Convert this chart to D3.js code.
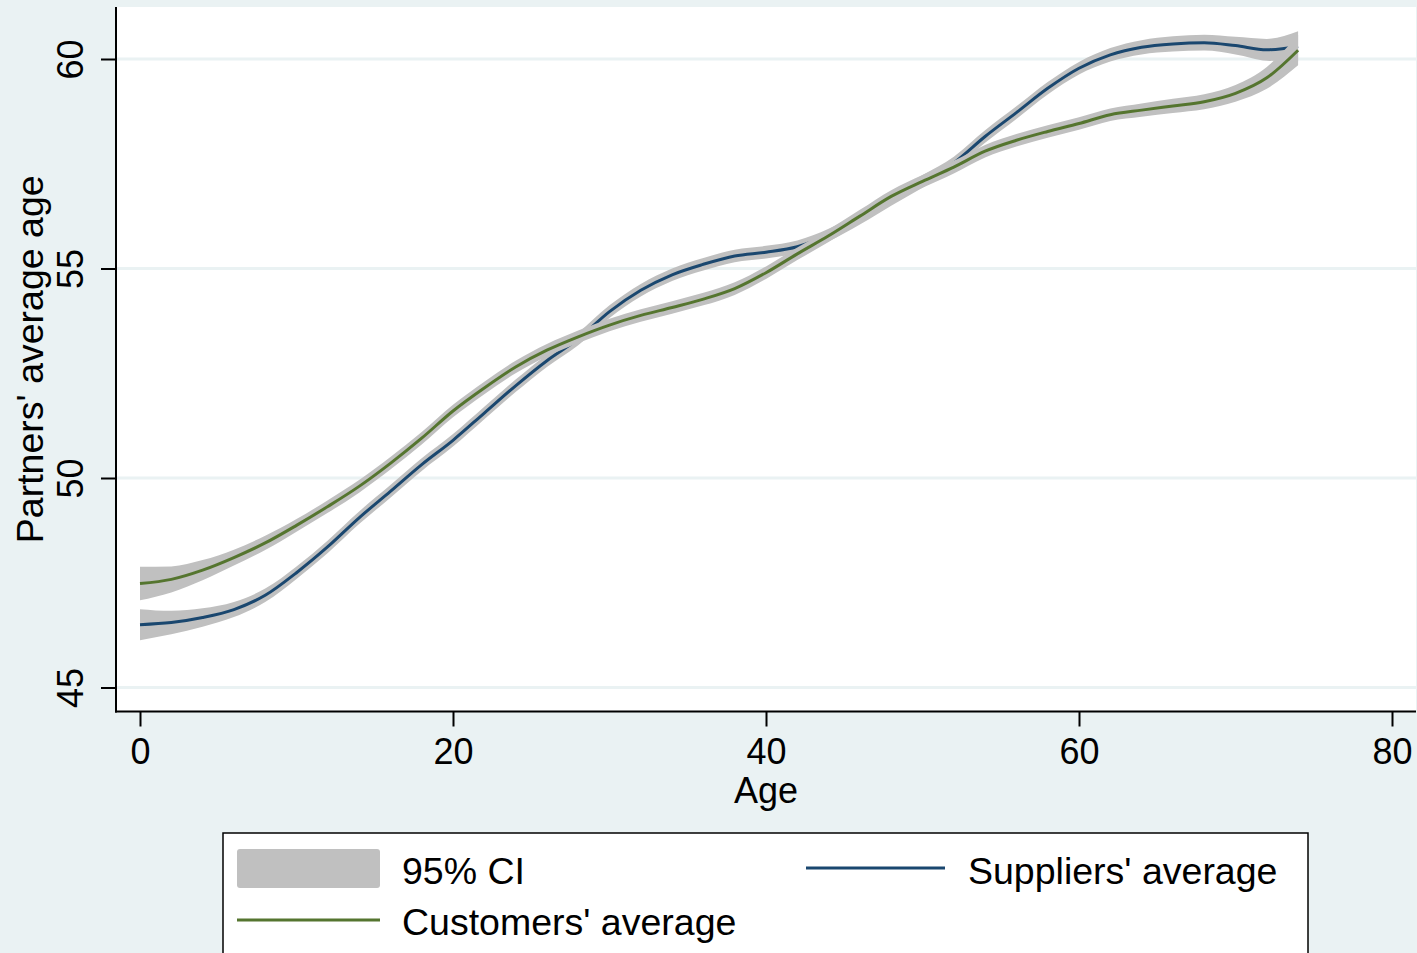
<!DOCTYPE html>
<html>
<head>
<meta charset="utf-8">
<script src="https://cdn.jsdelivr.net/npm/d3@7"></script>
<style>
  html, body { margin: 0; padding: 0; background: #eaf2f3; }
  svg { display: block; }
  text { font-family: "Liberation Sans", Arial, Helvetica, sans-serif; fill: #000; }
</style>
</head>
<body>
<svg id="chart" width="1417" height="953"></svg>
<script>
// Age grid on which the local-polynomial fits are evaluated
const ages = [0, 2, 4, 6, 8, 10, 12, 14, 16, 18, 20, 22, 24, 26, 28, 30, 32, 34, 36, 38,
              40, 42, 44, 46, 48, 50, 52, 54, 56, 58, 60, 62, 64, 66, 68, 70, 72, 74];

// Suppliers' average age by firm age, and half-width of its 95% CI
const suppliersMean = [46.50, 46.55, 46.67, 46.86, 47.20, 47.74, 48.36, 49.05, 49.68, 50.32,
                       50.90, 51.55, 52.20, 52.80, 53.32, 53.97, 54.48, 54.85, 55.10, 55.30,
                       55.39, 55.52, 55.80, 56.20, 56.65, 57.08, 57.52, 58.15, 58.72, 59.30,
                       59.78, 60.10, 60.28, 60.36, 60.39, 60.32, 60.22, 60.30];
const suppliersCI = [0.37, 0.28, 0.22, 0.18, 0.16, 0.15, 0.15, 0.15, 0.15, 0.15,
                     0.15, 0.15, 0.15, 0.15, 0.15, 0.15, 0.15, 0.15, 0.15, 0.15,
                     0.15, 0.15, 0.15, 0.15, 0.15, 0.15, 0.15, 0.15, 0.15, 0.15,
                     0.15, 0.16, 0.17, 0.18, 0.19, 0.21, 0.26, 0.36];

// Customers' average age by firm age, and half-width of its 95% CI
const customersMean = [47.48, 47.58, 47.80, 48.10, 48.45, 48.87, 49.32, 49.80, 50.35, 50.95,
                       51.60, 52.15, 52.65, 53.05, 53.37, 53.65, 53.88, 54.07, 54.27, 54.52,
                       54.90, 55.35, 55.78, 56.25, 56.72, 57.08, 57.42, 57.80, 58.06, 58.27,
                       58.46, 58.67, 58.78, 58.88, 58.98, 59.18, 59.55, 60.21];
const customersCI = [0.40, 0.31, 0.24, 0.19, 0.17, 0.15, 0.15, 0.15, 0.15, 0.15,
                     0.15, 0.15, 0.15, 0.15, 0.15, 0.15, 0.15, 0.15, 0.15, 0.15,
                     0.15, 0.15, 0.15, 0.15, 0.15, 0.15, 0.15, 0.15, 0.15, 0.15,
                     0.15, 0.15, 0.16, 0.17, 0.18, 0.20, 0.26, 0.36];

// Axis ticks
const xTicks = [0, 20, 40, 60, 80];
const yTicks = [45, 50, 55, 60];

// Legend labels
const legendLabels = ["95% CI", "Suppliers' average", "Customers' average"];

const colors = { suppliers: "#1a476f", customers: "#55752f", band: "#c0c0c0", grid: "#eaf2f3" };

const svg = d3.select("#chart");

// Plot region
const plot = { left: 116, right: 1416, top: 7, bottom: 711.5 };

const x = d3.scaleLinear().domain([0, 80]).range([140, 1392]);
const y = d3.scaleLinear().domain([45, 60]).range([687.5, 59]);

svg.append("rect")
  .attr("x", plot.left).attr("y", plot.top)
  .attr("width", plot.right - plot.left).attr("height", plot.bottom - plot.top)
  .attr("fill", "#ffffff");

// Horizontal grid lines
svg.append("g").selectAll("line").data(yTicks).join("line")
  .attr("x1", plot.left).attr("x2", plot.right)
  .attr("y1", d => y(d)).attr("y2", d => y(d))
  .attr("stroke", colors.grid).attr("stroke-width", 3);

function series(mean, ci) {
  return ages.map((a, i) => ({ age: a, m: mean[i], lo: mean[i] - ci[i], hi: mean[i] + ci[i] }));
}

const area = d3.area()
  .x(d => x(d.age)).y0(d => y(d.lo)).y1(d => y(d.hi))
  .curve(d3.curveMonotoneX);
const line = d3.line()
  .x(d => x(d.age)).y(d => y(d.m))
  .curve(d3.curveMonotoneX);

const layers = [
  { data: series(suppliersMean, suppliersCI), color: colors.suppliers },
  { data: series(customersMean, customersCI), color: colors.customers }
];

// Each fit draws its band, then its line
layers.forEach(s => {
  svg.append("path").datum(s.data)
    .attr("d", area).attr("fill", colors.band).attr("stroke", "none");
  svg.append("path").datum(s.data)
    .attr("d", line).attr("fill", "none")
    .attr("stroke", s.color).attr("stroke-width", 3)
    .attr("stroke-linejoin", "round");
});

// X axis
const xAxis = d3.axisBottom(x).tickValues(xTicks).tickSize(15).tickPadding(10).tickFormat(d3.format("d"));
const gx = svg.append("g").attr("transform", `translate(0,${plot.bottom})`).call(xAxis);
gx.select(".domain").remove();
gx.selectAll(".tick line").attr("stroke", "#000").attr("stroke-width", 2);
gx.selectAll(".tick text")
  .attr("font-size", 36).attr("dy", null).attr("y", 52)
  .style("font-family", '"Liberation Sans", Arial, sans-serif');
svg.append("line")
  .attr("x1", plot.left - 1).attr("x2", plot.right)
  .attr("y1", plot.bottom).attr("y2", plot.bottom)
  .attr("stroke", "#000").attr("stroke-width", 2);

// Y axis
const yAxis = d3.axisLeft(y).tickValues(yTicks).tickSize(15).tickFormat(d3.format("d"));
const gy = svg.append("g").attr("transform", `translate(${plot.left},0)`).call(yAxis);
gy.select(".domain").remove();
gy.selectAll(".tick line").attr("stroke", "#000").attr("stroke-width", 2);
gy.selectAll(".tick text")
  .attr("font-size", 36).attr("dy", null).attr("x", null)
  .attr("text-anchor", "middle")
  .attr("transform", "translate(-33,0) rotate(-90)")
  .style("font-family", '"Liberation Sans", Arial, sans-serif');
svg.append("line")
  .attr("x1", plot.left).attr("x2", plot.left)
  .attr("y1", plot.top).attr("y2", plot.bottom + 1)
  .attr("stroke", "#000").attr("stroke-width", 2);

// Axis titles
svg.append("text")
  .attr("x", (plot.left + plot.right) / 2).attr("y", 803)
  .attr("text-anchor", "middle").attr("font-size", 36)
  .text("Age");
svg.append("text")
  .attr("transform", `translate(43,${(plot.top + plot.bottom) / 2}) rotate(-90)`)
  .attr("text-anchor", "middle").attr("font-size", 37.5)
  .text("Partners' average age");

// Legend
const lg = svg.append("g");
lg.append("rect")
  .attr("x", 223).attr("y", 833).attr("width", 1085).attr("height", 140)
  .attr("fill", "#ffffff").attr("stroke", "#000").attr("stroke-width", 1.5);
lg.append("rect")
  .attr("x", 237).attr("y", 849).attr("width", 143).attr("height", 39)
  .attr("rx", 3).attr("fill", colors.band);
lg.append("text").attr("x", 402).attr("y", 884).attr("font-size", 37.5).text(legendLabels[0]);
lg.append("line")
  .attr("x1", 806).attr("x2", 945).attr("y1", 868).attr("y2", 868)
  .attr("stroke", colors.suppliers).attr("stroke-width", 3);
lg.append("text").attr("x", 968).attr("y", 884).attr("font-size", 37.5).text(legendLabels[1]);
lg.append("line")
  .attr("x1", 237).attr("x2", 380).attr("y1", 920).attr("y2", 920)
  .attr("stroke", colors.customers).attr("stroke-width", 3);
lg.append("text").attr("x", 402).attr("y", 935).attr("font-size", 37.5).text(legendLabels[2]);
</script>
</body>
</html>
